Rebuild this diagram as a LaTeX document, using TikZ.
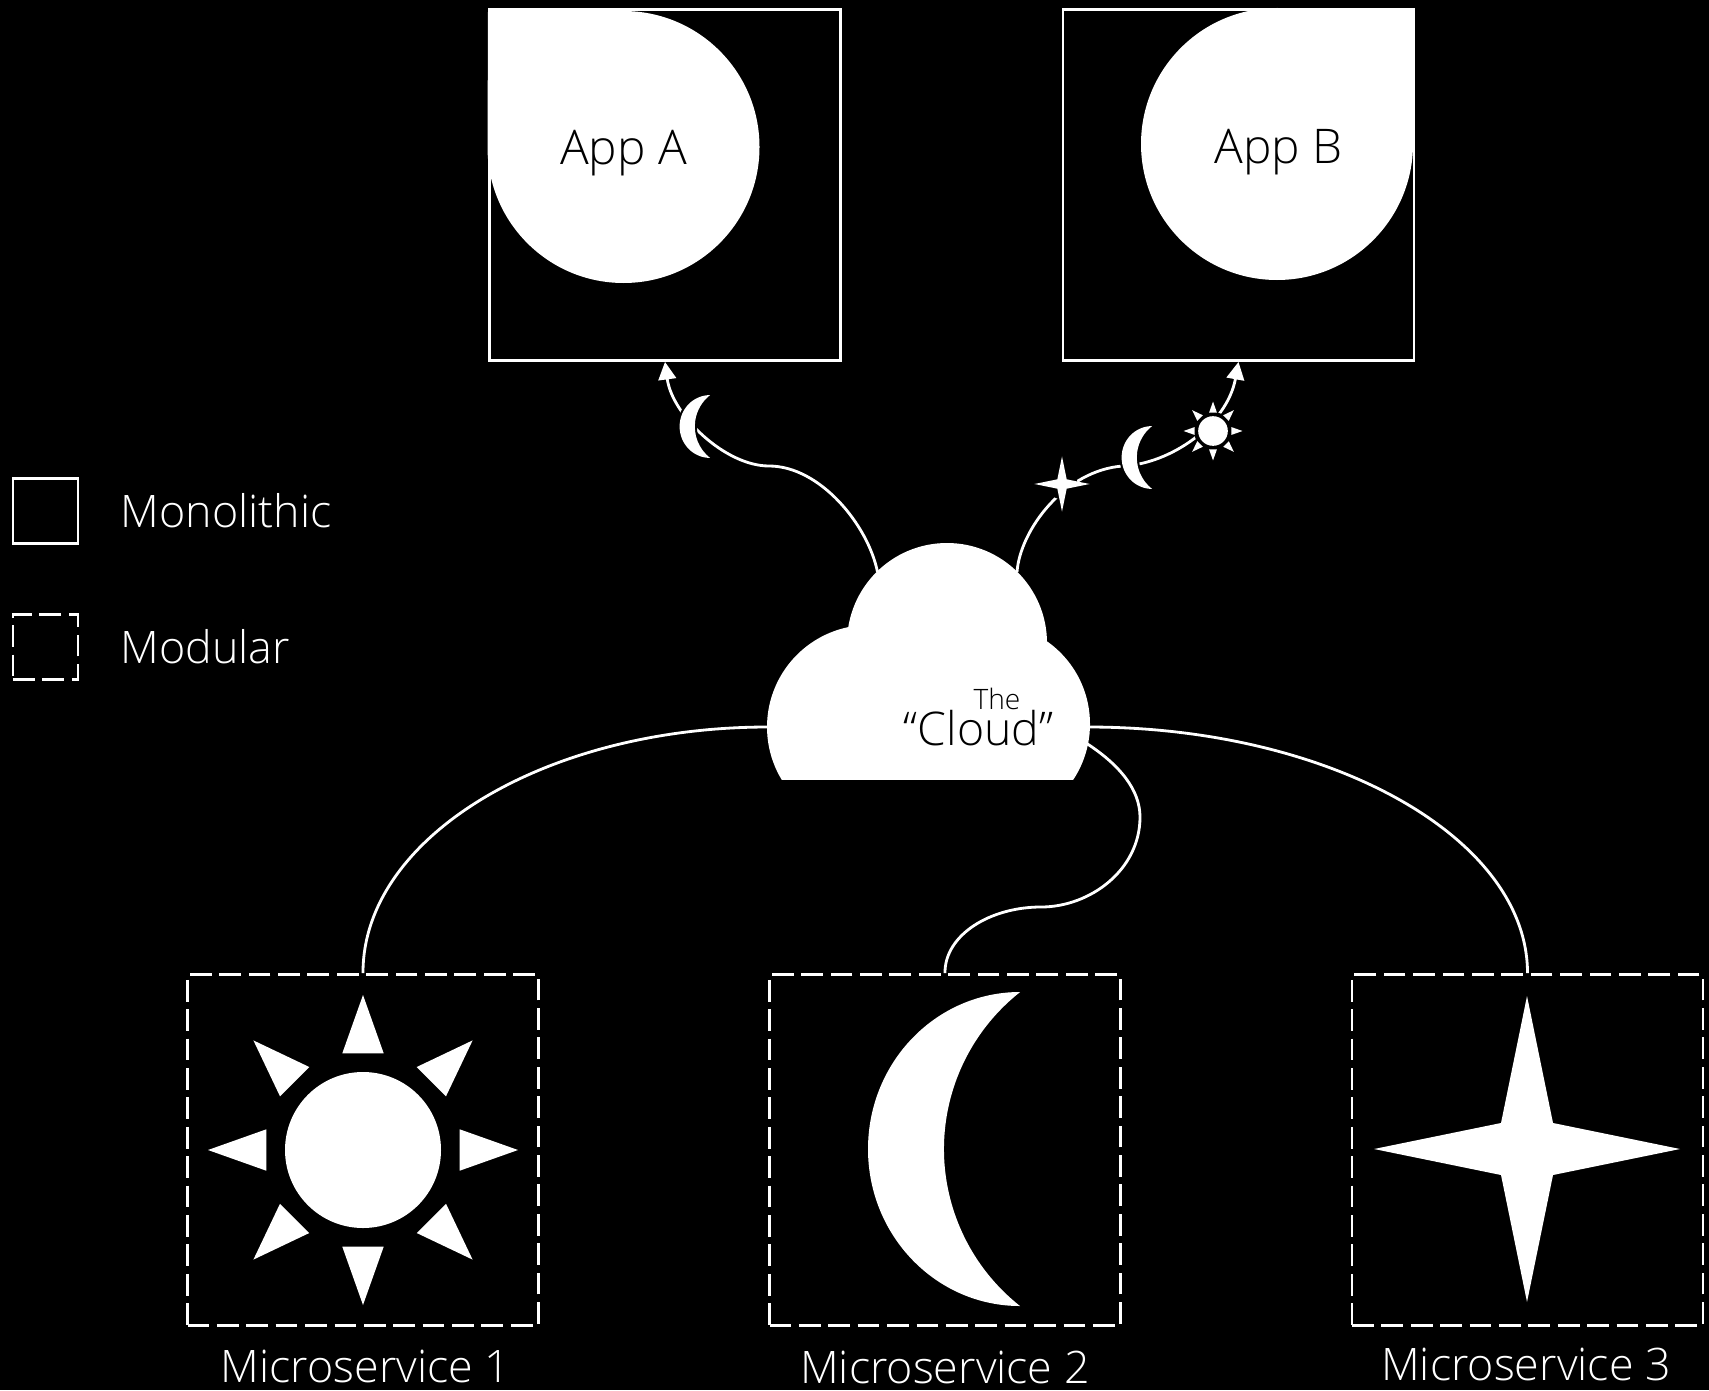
\documentclass[tikz,border=0pt]{standalone}
\usepackage{fontspec}
\setmainfont{Open Sans Light}
\usetikzlibrary{arrows.meta}

\tikzset{
        sunicon/.pic={
                \fill[black] (0,0) circle (1);
                \fill[white] (0,0) circle (.78);
                \foreach \a in {0,45,...,315}
                        \fill[white,rotate=\a] (1.55,0) -- (.967,.207) -- (.967,-.207) -- cycle;
        },
        moonicon/.pic={
                \fill[white,preaction={draw=black,line width=1.2pt}] (0,1.57) arc[start angle=90,end angle=270,x radius=1.52,y radius=1.57] arc[start angle=231.7,end angle=128.3,radius=2] -- cycle;
        },
        staricon/.pic={
                \fill[black] (0,0) circle (.85);
                \fill[white] (0,1.53) -- (.26,.26) -- (1.53,0) -- (.26,-.26) -- (0,-1.53) -- (-.26,-.26) -- (-1.53,0) -- (-.26,.26) -- cycle;
        }
}

\begin{document}
\begin{tikzpicture}
        \tikzstyle{mono}=[rectangle, draw=white, line width=.8pt, inner sep=0pt, minimum size=3.51cm]
        \tikzstyle{modular}=[rectangle, draw=white, line width=.8pt, dash pattern=on .217cm off .077cm, inner sep=0pt, minimum size=3.51cm]
        \tikzstyle{label}=[text=white, inner sep=0pt, font=\fontsize{12.75}{15}\selectfont]
        \tikzstyle{inner}=[text=black, inner sep=0pt, font=\fontsize{13.6}{16}\selectfont]
        \tikzstyle{link}=[white, line width=.8pt]

        \fill[black] (0,0) rectangle (17.09,13.90);
        \useasboundingbox (0,0) rectangle (17.09,13.90);

        \fill[white] (6.235,13.79) arc[start angle=90,end angle=-180,radius=1.36] -- (4.88,13.80) -- cycle;
        \fill[white] (12.77,13.82) arc[start angle=90,end angle=360,radius=1.36] -- (14.14,13.81) -- cycle;

        \node[mono] (appA) at (6.65,12.05) {};
        \node[mono] (appB) at (12.385,12.05) {};
        \node[inner] (appAtext) at (6.235,12.365) {App A};
        \node[inner] (appBtext) at (12.785,12.375) {App B};

        \node[mono, minimum size=.65cm] (legendMono) at (.455,8.79) {};
        \node[modular, minimum size=.65cm] (legendMod) at (.455,7.43) {};
        \node[label, anchor=west] (legendMonotext) at (1.20,8.79) {Monolithic};
        \node[label, anchor=west] (legendModtext) at (1.20,7.43) {Modular};

        \node[modular] (micro1) at (3.63,2.40) {};
        \node[modular] (micro2) at (9.45,2.40) {};
        \node[modular] (micro3) at (15.275,2.40) {};
        \node[label] (micro1text) at (3.655,.24) {Microservice 1};
        \node[label] (micro2text) at (9.45,.23) {Microservice 2};
        \node[label] (micro3text) at (15.26,.26) {Microservice 3};

        \coordinate (cloudA) at (8.775,8.18);
        \coordinate (cloudB) at (10.17,8.18);
        \coordinate (cloudL) at (7.68,6.63);
        \coordinate (cloudR) at (10.88,6.63);
        \coordinate (cloudM) at (10.86,6.47);
        \coordinate (viaA) at (7.69,9.24);
        \coordinate (viaB) at (11.23,9.24);
        \coordinate (viaM1) at (11.40,5.73);
        \coordinate (viaM2) at (10.41,4.83);

        \draw[link, -{Triangle[length=5pt,width=5pt]}] (cloudA) .. controls (8.68,8.65) and (8.20,9.24) .. (viaA) .. controls (7.25,9.24) and (6.72,9.75) .. (appA.south);
        \draw[link, -{Triangle[length=5pt,width=5pt]}] (cloudB) .. controls (10.20,8.60) and (10.65,9.20) .. (viaB) .. controls (11.70,9.26) and (12.27,9.65) .. (appB.south);
        \draw[link] (cloudL) .. controls (5.44,6.63) and (3.625,5.52) .. (micro1.north);
        \draw[link] (cloudR) .. controls (13.31,6.63) and (15.275,5.52) .. (micro3.north);
        \draw[link] (cloudM) .. controls (11.20,6.25) and (11.40,6.00) .. (viaM1) .. controls (11.40,5.20) and (10.90,4.83) .. (viaM2) .. controls (9.90,4.83) and (9.445,4.55) .. (micro2.north);

        \pic[scale=.2] at (7.10,9.635) {moonicon};
        \pic[scale=.18] at (10.62,9.06) {staricon};
        \pic[scale=.2] at (11.52,9.325) {moonicon};
        \pic[scale=.19] at (12.13,9.59) {sunicon};

        \pic at (3.63,2.40) {sunicon};
        \pic at (10.20,2.41) {moonicon};
        \pic at (15.27,2.41) {staricon};

        \begin{scope}
                \clip (7,6.11) rectangle (11.5,9);
                \fill[white] (8.69,6.63) circle (1.02) (9.47,7.47) circle (1.00) (9.89,6.66) circle (1.01);
        \end{scope}
        \node[inner, font=\fontsize{8}{9}\selectfont] (cloudThe) at (9.97,6.915) {The};
        \node[inner, font=\fontsize{13.2}{16}\selectfont] (cloudText) at (9.785,6.62) {“Cloud”};
\end{tikzpicture}
\end{document}
